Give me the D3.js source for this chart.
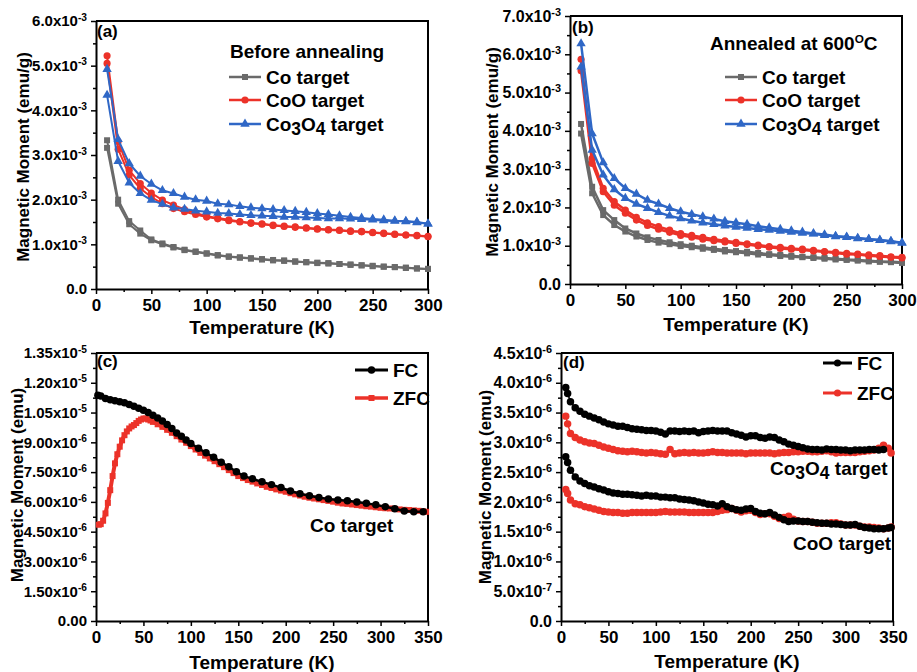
<!DOCTYPE html>
<html>
<head>
<meta charset="utf-8">
<script src="https://cdn.jsdelivr.net/npm/d3@7"></script>
<style>
  body { margin: 0; background: #fff; }
  text { font-family: "Liberation Sans", Arial, sans-serif; font-weight: bold; }
</style>
</head>
<body>
<div id="chart"></div>
<script>
// ---- data ----
// panels (a),(b): temperature in K, moment in units of 1e-3 emu/g
var abTemps = [10,20,30,40,50,60,70,80,90,100,110,120,130,140,150,160,170,180,190,200,210,220,230,240,250,260,270,280,290,300];

var aCoUp = [3.33,2.00,1.52,1.31,1.11,1.02,0.94,0.88,0.84,0.80,0.76,0.73,0.71,0.69,0.67,0.65,0.64,0.62,0.60,0.59,0.58,0.56,0.55,0.53,0.52,0.50,0.49,0.48,0.46,0.45];
var aCoDn = [3.16,1.91,1.45,1.24,1.09,1.00,0.93,0.87,0.83,0.79,0.75,0.72,0.70,0.68,0.66,0.64,0.63,0.61,0.60,0.58,0.57,0.56,0.54,0.53,0.51,0.50,0.49,0.47,0.46,0.45];
var aCoOUp = [5.22,3.30,2.66,2.36,2.15,1.99,1.88,1.78,1.70,1.63,1.59,1.55,1.51,1.48,1.46,1.43,1.41,1.39,1.37,1.35,1.33,1.32,1.30,1.29,1.27,1.25,1.23,1.21,1.20,1.18];
var aCoODn = [5.05,3.13,2.55,2.25,2.06,1.91,1.80,1.73,1.67,1.61,1.57,1.53,1.50,1.47,1.45,1.42,1.40,1.38,1.36,1.34,1.32,1.31,1.29,1.28,1.26,1.24,1.22,1.21,1.19,1.17];
var aCo3O4Up = [4.92,3.35,2.81,2.53,2.35,2.21,2.14,2.06,2.00,1.97,1.91,1.89,1.85,1.82,1.80,1.78,1.76,1.74,1.72,1.69,1.67,1.64,1.61,1.59,1.57,1.55,1.53,1.52,1.50,1.46];
var aCo3O4Dn = [4.34,2.86,2.38,2.14,1.99,1.90,1.82,1.79,1.75,1.73,1.70,1.69,1.67,1.65,1.64,1.63,1.61,1.61,1.60,1.59,1.58,1.58,1.57,1.56,1.55,1.53,1.52,1.51,1.49,1.46];

var bCoUp = [4.18,2.54,1.93,1.67,1.45,1.32,1.22,1.15,1.09,1.04,1.00,0.96,0.92,0.89,0.86,0.84,0.81,0.78,0.76,0.74,0.71,0.70,0.68,0.66,0.64,0.63,0.61,0.59,0.58,0.57];
var bCoDn = [3.93,2.37,1.80,1.54,1.37,1.24,1.15,1.08,1.04,0.99,0.96,0.92,0.89,0.85,0.83,0.80,0.77,0.76,0.73,0.71,0.70,0.68,0.66,0.64,0.63,0.61,0.59,0.58,0.57,0.55];
var bCoOUp = [5.87,3.28,2.50,2.15,1.93,1.74,1.60,1.50,1.41,1.32,1.27,1.22,1.17,1.13,1.09,1.05,1.02,0.98,0.96,0.93,0.91,0.88,0.85,0.83,0.80,0.78,0.76,0.74,0.71,0.70];
var bCoODn = [5.57,3.15,2.41,2.06,1.85,1.67,1.53,1.43,1.35,1.27,1.22,1.17,1.13,1.10,1.06,1.03,0.99,0.96,0.93,0.91,0.89,0.86,0.84,0.81,0.78,0.77,0.74,0.72,0.70,0.68];
var bCo3O4Up = [6.28,3.93,3.17,2.76,2.50,2.35,2.19,2.09,1.98,1.89,1.82,1.76,1.70,1.64,1.60,1.56,1.51,1.47,1.43,1.39,1.36,1.32,1.29,1.25,1.23,1.20,1.17,1.15,1.12,1.08];
var bCo3O4Dn = [5.67,3.50,2.85,2.47,2.24,2.09,1.98,1.87,1.78,1.71,1.65,1.60,1.56,1.52,1.49,1.46,1.43,1.41,1.38,1.36,1.33,1.31,1.27,1.24,1.22,1.19,1.17,1.14,1.11,1.07];

// panel (c): Co target, moment in units of 1e-6 emu
var cFcTemps = [2,5,10,15,20,25,30,35,40,45,50,55,60,65,70,75,80,85,90,95,100,108,116,124,132,140,148,156,165,175,185,195,205,215,225,235,245,255,265,275,285,295,305,315,325,335,345];
var cFc = [11.37,11.33,11.21,11.15,11.09,11.04,10.99,10.91,10.82,10.72,10.62,10.50,10.37,10.23,10.08,9.90,9.70,9.47,9.31,9.12,8.94,8.70,8.47,8.25,8.00,7.77,7.52,7.30,7.16,7.01,6.87,6.72,6.55,6.41,6.31,6.22,6.14,6.10,6.06,6.00,5.93,5.85,5.76,5.65,5.54,5.50,5.50];
var cZfcTemps = [3,5,7.5,10,12.5,15,17.5,20,22.5,25,27.5,30,32.5,35,37.5,40,42.5,45,47.5,50,52.5,55,57.5,60,
  65,70,75,80,85,90,95,100,105,110,115,120,125,130,135,140,145,150,155,160,165,170,175,180,185,190,195,200,
  205,210,215,220,225,230,235,240,245,250,255,260,265,270,275,280,285,290,295,300,305,310,315,320,325,330,335,340,345,348];
var cZfc = [4.85,4.88,5.05,5.42,5.95,6.59,7.30,7.94,8.40,8.78,9.10,9.36,9.55,9.70,9.80,9.87,9.97,10.08,10.15,10.20,10.20,10.15,10.10,10.03,
  9.91,9.78,9.63,9.48,9.31,9.14,8.98,8.81,8.64,8.47,8.33,8.19,8.05,7.90,7.75,7.60,7.45,7.30,7.20,7.10,7.02,6.93,6.85,6.76,6.70,6.63,6.57,6.51,
  6.44,6.38,6.32,6.26,6.21,6.17,6.13,6.09,6.05,6.01,5.96,5.92,5.90,5.87,5.84,5.81,5.78,5.76,5.73,5.70,5.68,5.67,5.65,5.62,5.60,5.59,5.57,5.55,5.52,5.50];

// panel (d): CoO and Co3O4 targets, moment in units of 1e-6 emu
var dTemps = [5,7,10,15,20,25,30,35,40,45, 50,55,60,65,70,75,80,85,90,95, 100,105,110,115,120,125,130,135,140,145,
  150,155,160,165,170,175,180,185,190,195, 200,205,210,215,220,225,230,235,240,245, 250,255,260,265,270,275,280,285,290,295,
  300,305,310,315,320,325,330,335,340,345, 348];
var dCo3O4Fc = [3.92,3.82,3.68,3.58,3.52,3.47,3.44,3.41,3.38,3.34, 3.31,3.29,3.27,3.27,3.25,3.23,3.22,3.21,3.20,3.20,
  3.19,3.17,3.14,3.19,3.19,3.18,3.19,3.18,3.19,3.16, 3.18,3.19,3.20,3.19,3.19,3.19,3.16,3.14,3.12,3.09,
  3.11,3.11,3.08,3.07,3.09,3.08,3.04,3.01,2.97,2.95, 2.93,2.91,2.89,2.88,2.88,2.87,2.89,2.88,2.88,2.87,
  2.87,2.86,2.87,2.87,2.87,2.88,2.88,2.87,2.88,null, null];
var dCo3O4Zfc = [3.44,3.31,3.15,3.08,3.04,3.01,2.99,2.98,2.95,2.92, 2.90,2.88,2.86,2.85,2.84,2.85,2.84,2.83,2.82,2.83,
  2.82,2.81,2.80,2.88,2.81,2.82,2.83,2.82,2.83,2.82, 2.82,2.83,2.84,2.83,2.83,2.82,2.82,2.82,2.82,2.81,
  2.82,2.82,2.82,2.82,2.82,2.81,2.82,2.83,2.83,2.84, 2.84,2.85,2.85,2.84,2.84,2.85,2.86,2.84,2.82,2.83,
  2.83,2.83,2.83,2.84,2.85,2.86,2.87,2.90,2.95,2.90, 2.82];
var dCoOFc = [2.76,2.66,2.53,2.42,2.35,2.31,2.27,2.25,2.22,2.20, 2.17,2.15,2.14,2.13,2.13,2.12,2.11,2.10,2.11,2.10,
  2.10,2.08,2.08,2.07,2.07,2.05,2.04,2.03,2.02,2.00, 1.98,1.96,1.95,1.93,1.97,1.92,1.89,1.87,1.86,1.88,
  1.89,1.84,1.81,1.80,1.82,1.78,1.74,1.70,1.67,1.68, 1.68,1.67,1.67,1.66,1.65,1.64,1.64,1.63,1.63,1.62,
  1.61,1.61,1.62,1.59,1.57,1.56,1.55,1.55,1.55,1.56, 1.57];
var dCoOZfc = [2.21,2.14,2.03,1.97,1.95,1.92,1.90,1.88,1.86,1.84, 1.83,1.82,1.82,1.81,1.81,1.82,1.82,1.82,1.82,1.82,
  1.82,1.83,1.84,1.83,1.83,1.83,1.83,1.82,1.82,1.82, 1.82,1.82,1.82,1.84,1.86,1.87,1.89,1.86,1.83,1.85,
  1.86,1.82,1.79,1.80,1.80,1.76,1.72,1.74,1.76,1.71, 1.68,1.67,1.67,1.66,1.64,1.64,1.64,1.65,1.65,1.63,
  1.61,1.61,1.61,1.59,1.58,1.58,1.57,1.56,1.55,1.56, 1.58];

// ticks
var abTicksX = [0,50,100,150,200,250,300];
var cdTicksX = [0,50,100,150,200,250,300,350];
var aTicksY = [0,1,2,3,4,5,6];
var aLabelsY = ["0.0","1.0x10^-3","2.0x10^-3","3.0x10^-3","4.0x10^-3","5.0x10^-3","6.0x10^-3"];
var bTicksY = [0,1,2,3,4,5,6,7];
var bLabelsY = ["0.0","1.0x10^-3","2.0x10^-3","3.0x10^-3","4.0x10^-3","5.0x10^-3","6.0x10^-3","7.0x10^-3"];
var cTicksY = [0,1.5,3,4.5,6,7.5,9,10.5,12,13.5];
var cLabelsY = ["0.00","1.50x10^-6","3.00x10^-6","4.50x10^-6","6.00x10^-6","7.50x10^-6","9.00x10^-6","1.05x10^-5","1.20x10^-5","1.35x10^-5"];
var dTicksY = [0,0.5,1,1.5,2,2.5,3,3.5,4,4.5];
var dLabelsY = ["0.0","5.0x10^-7","1.0x10^-6","1.5x10^-6","2.0x10^-6","2.5x10^-6","3.0x10^-6","3.5x10^-6","4.0x10^-6","4.5x10^-6"];

var GRAY = "#6a6a6a", RED = "#ec3229", BLUE = "#2f67c6", BLACK = "#000";

// ---- drawing ----
var svg = d3.select("#chart").append("svg")
  .attr("width", 917)
  .attr("height", 672);

// "Co_{3}O_{4}" -> lowered digits, "600^{O}C" -> small raised O
function richText(t, str, fs) {
  var re = /([_^])\{([^}]*)\}/g, last = 0, m, off = 0;
  function plain(s) {
    var ts = t.append("tspan").text(s);
    if (off !== 0) { ts.attr("dy", -off); off = 0; }
  }
  while ((m = re.exec(str)) !== null) {
    if (m.index > last) plain(str.slice(last, m.index));
    var target = m[1] == "_" ? 0.2 * fs : -0.36 * fs;
    t.append("tspan")
      .attr("dy", target - off)
      .attr("font-size", m[1] == "_" ? 0.92 * fs : 0.62 * fs)
      .text(m[2]);
    off = target;
    last = re.lastIndex;
  }
  if (last < str.length) plain(str.slice(last));
}

function symbolFor(shape, size) {
  var type = shape == "square" ? d3.symbolSquare : shape == "triangle" ? d3.symbolTriangle : d3.symbolCircle;
  return d3.symbol().type(type).size(size)();
}

function midpoints(ticks) {
  var out = [];
  for (var i = 0; i < ticks.length - 1; i++) out.push((ticks[i] + ticks[i + 1]) / 2);
  return out;
}

function drawPanel(p) {
  var g = svg.append("g");
  var x = d3.scaleLinear().domain(p.xDomain).range([p.left, p.right]);
  var y = d3.scaleLinear().domain(p.yDomain).range([p.bottom, p.top]);

  // minor ticks
  g.append("g")
    .attr("transform", "translate(0," + p.bottom + ")")
    .call(d3.axisBottom(x).tickValues(midpoints(p.xTicks)).tickSize(3).tickFormat(""))
    .call(function(s){ s.select(".domain").remove(); })
    .selectAll("line").attr("stroke-width", 1.5);
  g.append("g")
    .attr("transform", "translate(" + p.left + ",0)")
    .call(d3.axisLeft(y).tickValues(midpoints(p.yTicks)).tickSize(3).tickFormat(""))
    .call(function(s){ s.select(".domain").remove(); })
    .selectAll("line").attr("stroke-width", 1.5);

  // major axes
  var xa = g.append("g")
    .attr("transform", "translate(0," + p.bottom + ")")
    .call(d3.axisBottom(x).tickValues(p.xTicks).tickSize(5).tickSizeOuter(0).tickPadding(5));
  xa.attr("font-family", null).attr("font-size", p.xFont);
  xa.selectAll("text").attr("fill", "#000");
  var ya = g.append("g")
    .attr("transform", "translate(" + p.left + ",0)")
    .call(d3.axisLeft(y).tickValues(p.yTicks).tickSize(5).tickSizeOuter(0).tickPadding(4));
  ya.attr("font-family", null).attr("font-size", p.yFont);
  ya.selectAll(".tick text").each(function(d, i) {
    var parts = p.yLabels[i].split("^");
    var t = d3.select(this).text(null).attr("fill", "#000");
    t.append("tspan").text(parts[0]);
    if (parts[1]) t.append("tspan").attr("dy", "-0.55em").attr("font-size", "0.68em").text(parts[1]);
  });
  g.selectAll(".tick line").attr("stroke-width", 1.5);
  g.selectAll(".domain").attr("stroke-width", 2);

  // top and right frame
  g.append("path")
    .attr("d", "M" + x.range()[0] + "," + y.range()[1] + "H" + x.range()[1] + "V" + y.range()[0])
    .attr("fill", "none").attr("stroke", "#000").attr("stroke-width", 2);

  // series
  p.series.forEach(function(s) {
    var pts = s.t.map(function(t, i){ return [t, s.v[i]]; }).filter(function(d){ return d[1] != null; });
    g.append("path")
      .datum(pts)
      .attr("fill", "none")
      .attr("stroke", s.color)
      .attr("stroke-width", s.lw)
      .attr("stroke-linejoin", "round")
      .attr("d", d3.line().x(function(d){ return x(d[0]); }).y(function(d){ return y(d[1]); }));
    g.selectAll(null)
      .data(pts)
      .enter()
      .append("path")
      .attr("d", symbolFor(s.shape, s.size))
      .attr("fill", s.color)
      .attr("transform", function(d){ return "translate(" + x(d[0]) + "," + y(d[1]) + ")"; });
  });

  // legend
  p.legend.forEach(function(l) {
    g.append("line")
      .attr("x1", l.x1).attr("x2", l.x2).attr("y1", l.y).attr("y2", l.y)
      .attr("stroke", l.color).attr("stroke-width", l.lw);
    g.append("path")
      .attr("d", symbolFor(l.shape, l.size))
      .attr("fill", l.color)
      .attr("transform", "translate(" + (l.x1 + l.x2) / 2 + "," + l.y + ")");
    var t = g.append("text").attr("x", l.x2 + 5).attr("y", l.y + 0.36 * p.legendFont)
      .attr("font-size", p.legendFont);
    richText(t, l.label, p.legendFont);
  });

  // free text
  p.notes.forEach(function(n) {
    var t = g.append("text").attr("x", n.x).attr("y", n.y).attr("font-size", n.size);
    richText(t, n.text, n.size);
  });

  // axis titles
  g.append("text")
    .attr("x", (p.left + p.right) / 2).attr("y", p.xTitleY)
    .attr("text-anchor", "middle").attr("font-size", 19)
    .text("Temperature (K)");
  g.append("text")
    .attr("transform", "translate(" + p.yTitleX + "," + p.yTitleMid + ")rotate(-90)")
    .attr("text-anchor", "middle").attr("dy", "0.36em").attr("font-size", 17)
    .text(p.yTitle);
}

drawPanel({
  left: 96, right: 428, top: 21, bottom: 289,
  xDomain: [0, 300], yDomain: [0, 6],
  xTicks: abTicksX, yTicks: aTicksY, yLabels: aLabelsY, xFont: 17, yFont: 15,
  series: [
    {t: abTemps, v: aCoDn, color: GRAY, shape: "square", size: 36, lw: 2},
    {t: abTemps, v: aCoUp, color: GRAY, shape: "square", size: 36, lw: 2},
    {t: abTemps, v: aCoODn, color: RED, shape: "circle", size: 40, lw: 2},
    {t: abTemps, v: aCoOUp, color: RED, shape: "circle", size: 40, lw: 2},
    {t: abTemps, v: aCo3O4Dn, color: BLUE, shape: "triangle", size: 38, lw: 2},
    {t: abTemps, v: aCo3O4Up, color: BLUE, shape: "triangle", size: 38, lw: 2}
  ],
  legendFont: 19,
  legend: [
    {x1: 229, x2: 261, y: 77, color: GRAY, shape: "square", size: 36, lw: 2.5, label: "Co target"},
    {x1: 229, x2: 261, y: 100, color: RED, shape: "circle", size: 40, lw: 2.5, label: "CoO target"},
    {x1: 229, x2: 261, y: 124, color: BLUE, shape: "triangle", size: 38, lw: 2.5, label: "Co_{3}O_{4} target"}
  ],
  notes: [
    {x: 97, y: 37, size: 17, text: "(a)"},
    {x: 230, y: 58, size: 19, text: "Before annealing"}
  ],
  xTitleY: 334, yTitle: "Magnetic Moment (emu/g)", yTitleX: 23, yTitleMid: 157
});

drawPanel({
  left: 570, right: 902, top: 16, bottom: 284,
  xDomain: [0, 300], yDomain: [0, 7],
  xTicks: abTicksX, yTicks: bTicksY, yLabels: bLabelsY, xFont: 17, yFont: 16,
  series: [
    {t: abTemps, v: bCoDn, color: GRAY, shape: "square", size: 36, lw: 2.5},
    {t: abTemps, v: bCoUp, color: GRAY, shape: "square", size: 36, lw: 2.5},
    {t: abTemps, v: bCoODn, color: RED, shape: "circle", size: 40, lw: 2.5},
    {t: abTemps, v: bCoOUp, color: RED, shape: "circle", size: 40, lw: 2.5},
    {t: abTemps, v: bCo3O4Dn, color: BLUE, shape: "triangle", size: 38, lw: 2.5},
    {t: abTemps, v: bCo3O4Up, color: BLUE, shape: "triangle", size: 38, lw: 2.5}
  ],
  legendFont: 19,
  legend: [
    {x1: 725, x2: 757, y: 77, color: GRAY, shape: "square", size: 36, lw: 2.5, label: "Co target"},
    {x1: 725, x2: 757, y: 100, color: RED, shape: "circle", size: 40, lw: 2.5, label: "CoO target"},
    {x1: 725, x2: 757, y: 124, color: BLUE, shape: "triangle", size: 38, lw: 2.5, label: "Co_{3}O_{4} target"}
  ],
  notes: [
    {x: 572, y: 33, size: 17, text: "(b)"},
    {x: 710, y: 50, size: 19, text: "Annealed at 600^{O}C"}
  ],
  xTitleY: 331, yTitle: "Magnetic Moment (emu/g)", yTitleX: 492, yTitleMid: 152
});

drawPanel({
  left: 96, right: 428, top: 353, bottom: 621,
  xDomain: [0, 350], yDomain: [0, 13.5],
  xTicks: cdTicksX, yTicks: cTicksY, yLabels: cLabelsY, xFont: 17, yFont: 15,
  series: [
    {t: cZfcTemps, v: cZfc, color: RED, shape: "square", size: 36, lw: 4},
    {t: cFcTemps, v: cFc, color: BLACK, shape: "circle", size: 44, lw: 2.5}
  ],
  legendFont: 19,
  legend: [
    {x1: 355, x2: 388, y: 370, color: BLACK, shape: "circle", size: 44, lw: 3, label: "FC"},
    {x1: 355, x2: 388, y: 398, color: RED, shape: "square", size: 36, lw: 3.5, label: "ZFC"}
  ],
  notes: [
    {x: 97, y: 367, size: 17, text: "(c)"},
    {x: 310, y: 532, size: 19, text: "Co target"}
  ],
  xTitleY: 669, yTitle: "Magnetic Moment (emu)", yTitleX: 17, yTitleMid: 485
});

drawPanel({
  left: 561, right: 893, top: 353, bottom: 621,
  xDomain: [0, 350], yDomain: [0, 4.5],
  xTicks: cdTicksX, yTicks: dTicksY, yLabels: dLabelsY, xFont: 17, yFont: 16,
  series: [
    {t: dTemps, v: dCo3O4Zfc, color: RED, shape: "circle", size: 44, lw: 1.5},
    {t: dTemps, v: dCoOZfc, color: RED, shape: "circle", size: 44, lw: 1.5},
    {t: dTemps, v: dCo3O4Fc, color: BLACK, shape: "circle", size: 44, lw: 1.5},
    {t: dTemps, v: dCoOFc, color: BLACK, shape: "circle", size: 44, lw: 1.5}
  ],
  legendFont: 19,
  legend: [
    {x1: 823, x2: 852, y: 363, color: BLACK, shape: "circle", size: 40, lw: 3, label: "FC"},
    {x1: 823, x2: 852, y: 393, color: RED, shape: "circle", size: 40, lw: 3, label: "ZFC"}
  ],
  notes: [
    {x: 563, y: 368, size: 17, text: "(d)"},
    {x: 770, y: 475, size: 19, text: "Co_{3}O_{4} target"},
    {x: 793, y: 550, size: 19, text: "CoO target"}
  ],
  xTitleY: 668, yTitle: "Magnetic Moment (emu)", yTitleX: 485, yTitleMid: 487
});
</script>
</body>
</html>
